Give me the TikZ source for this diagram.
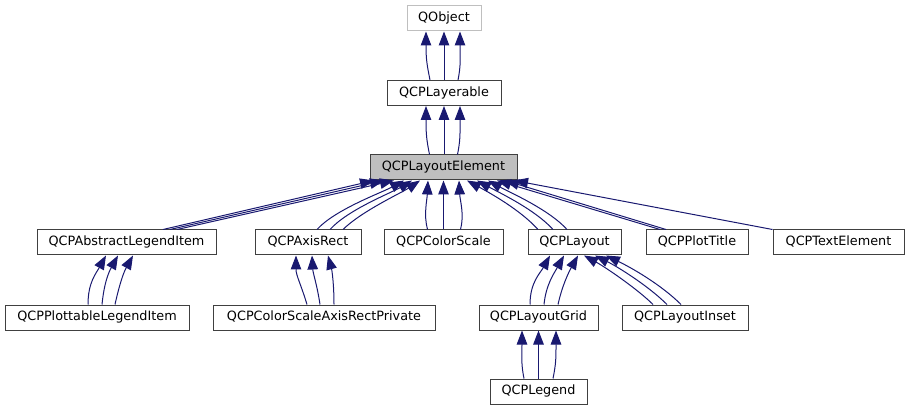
\documentclass[tikz,border=0pt]{standalone}
\usepackage{fontspec}
\setmainfont{DejaVu Sans}
\usetikzlibrary{arrows.meta}
\definecolor{edgecol}{HTML}{191970}
\definecolor{boxline}{HTML}{404040}
\definecolor{greyfill}{HTML}{BFBFBF}
\begin{document}
\begin{tikzpicture}[x=1pt,y=-1pt,
  cls/.style={draw=boxline, line width=1pt, fill=white, minimum height=25pt,
    inner sep=0pt, text height=9.5pt, text depth=3pt,
    font=\fontsize{12.8}{15}\selectfont},
  edge/.style={draw=edgecol, line width=1pt, -{Triangle[length=14pt,width=10.5pt]}}]
\path[use as bounding box] (0,0) rectangle (909,411);

% nodes
\node[cls, draw=greyfill, minimum width=74pt] (obj) at (444,18.5) {QObject};
\node[cls, minimum width=114pt] (lay) at (444,93) {QCPLayerable};
\node[cls, fill=greyfill, minimum width=147pt] (le) at (443.5,167.5) {QCPLayoutElement};
\node[cls, minimum width=179pt] (ali) at (126.5,242.5) {QCPAbstractLegendItem};
\node[cls, minimum width=106pt] (ar) at (308,242.5) {QCPAxisRect};
\node[cls, minimum width=119pt] (cs) at (443.5,242.5) {QCPColorScale};
\node[cls, minimum width=93pt] (lo) at (574.5,242.5) {QCPLayout};
\node[cls, minimum width=102pt] (pt) at (697,242.5) {QCPPlotTitle};
\node[cls, minimum width=131pt] (te) at (838.5,242.5) {QCPTextElement};
\node[cls, minimum width=184pt] (pli) at (97,317.5) {QCPPlottableLegendItem};
\node[cls, minimum width=222pt] (csarp) at (324,317.5) {QCPColorScaleAxisRectPrivate};
\node[cls, minimum width=119pt] (lg) at (538.5,317.5) {QCPLayoutGrid};
\node[cls, minimum width=126pt] (li) at (685,317.5) {QCPLayoutInset};
\node[cls, minimum width=97pt] (leg) at (538.5,391.5) {QCPLegend};

% QCPLayerable -> QObject
\draw[edge] ([xshift=-14pt]lay.north) .. controls +(-3,-15) and +(0,28) .. ([xshift=-18pt]obj.south);
\draw[edge] (lay.north) -- (obj.south);
\draw[edge] ([xshift=14pt]lay.north) .. controls +(3,-15) and +(0,28) .. ([xshift=16pt]obj.south);

% QCPLayoutElement -> QCPLayerable
\draw[edge] ([xshift=-14pt]le.north) .. controls +(-3,-15) and +(0,28) .. ([xshift=-18pt]lay.south);
\draw[edge] ([xshift=0.5pt]le.north) -- (lay.south);
\draw[edge] ([xshift=14pt]le.north) .. controls +(3,-15) and +(0,28) .. ([xshift=16pt]lay.south);

% QCPAbstractLegendItem -> QCPLayoutElement
\draw[edge] ([xshift=36.5pt]ali.north) -- ([xshift=-69.5pt]le.south);
\draw[edge] ([xshift=43.5pt]ali.north) -- ([xshift=-59.5pt]le.south);
\draw[edge] ([xshift=50.5pt]ali.north) -- ([xshift=-49.5pt]le.south);

% QCPAxisRect -> QCPLayoutElement
\draw[edge] ([xshift=9pt]ar.north) .. controls +(18,-20) and +(-22,12) .. ([xshift=-39.5pt]le.south);
\draw[edge] ([xshift=22pt]ar.north) .. controls +(18,-20) and +(-20,12) .. ([xshift=-31.5pt]le.south);
\draw[edge] ([xshift=35pt]ar.north) .. controls +(18,-18) and +(-18,12) .. ([xshift=-23.5pt]le.south);

% QCPColorScale -> QCPLayoutElement
\draw[edge] ([xshift=-16pt]cs.north) .. controls +(-4,-15) and +(-1,20) .. ([xshift=-15.5pt]le.south);
\draw[edge] (cs.north) -- (le.south);
\draw[edge] ([xshift=17pt]cs.north) .. controls +(4,-15) and +(1,20) .. ([xshift=15.5pt]le.south);

% QCPLayout -> QCPLayoutElement
\draw[edge] ([xshift=-36.5pt]lo.north) .. controls +(-18,-20) and +(22,12) .. ([xshift=23.5pt]le.south);
\draw[edge] ([xshift=-21.5pt]lo.north) .. controls +(-18,-20) and +(22,12) .. ([xshift=33.5pt]le.south);
\draw[edge] ([xshift=-7.5pt]lo.north) .. controls +(-18,-20) and +(22,12) .. ([xshift=44.5pt]le.south);

% QCPPlotTitle -> QCPLayoutElement
\draw[edge] ([xshift=-37pt]pt.north) -- ([xshift=53.5pt]le.south);
\draw[edge] ([xshift=-31pt]pt.north) -- ([xshift=61.5pt]le.south);

% QCPTextElement -> QCPLayoutElement
\draw[edge] (te.north west) -- ([xshift=70.5pt]le.south);

% QCPPlottableLegendItem -> QCPAbstractLegendItem
\draw[edge] ([xshift=-9pt]pli.north) .. controls +(0,-22) and +(-10,18) .. ([xshift=-20.5pt]ali.south);
\draw[edge] ([xshift=5pt]pli.north) .. controls +(2,-20) and +(-10,18) .. ([xshift=-8.5pt]ali.south);
\draw[edge] ([xshift=18pt]pli.north) .. controls +(4,-18) and +(-10,18) .. ([xshift=6.5pt]ali.south);

% QCPColorScaleAxisRectPrivate -> QCPAxisRect
\draw[edge] ([xshift=-17pt]csarp.north) .. controls +(-6,-20) and +(0,20) .. ([xshift=-12pt]ar.south);
\draw[edge] ([xshift=-4pt]csarp.north) .. controls +(-3,-20) and +(1,18) .. ([xshift=4pt]ar.south);
\draw[edge] ([xshift=10pt]csarp.north) .. controls +(0,-20) and +(4,15) .. ([xshift=20pt]ar.south);

% QCPLayoutGrid -> QCPLayout
\draw[edge] ([xshift=-8.5pt]lg.north) .. controls +(0,-22) and +(-10,18) .. ([xshift=-24.5pt]lo.south);
\draw[edge] ([xshift=5.5pt]lg.north) .. controls +(2,-20) and +(-10,18) .. ([xshift=-10.5pt]lo.south);
\draw[edge] ([xshift=19.5pt]lg.north) .. controls +(4,-18) and +(-10,18) .. ([xshift=3.5pt]lo.south);

% QCPLayoutInset -> QCPLayout
\draw[edge] ([xshift=-32pt]li.north) .. controls +(-15,-15) and +(22,12) .. ([xshift=9.5pt]lo.south);
\draw[edge] ([xshift=-18pt]li.north) .. controls +(-18,-18) and +(24,12) .. ([xshift=20.5pt]lo.south);
\draw[edge] ([xshift=-4pt]li.north) .. controls +(-20,-20) and +(25,12) .. ([xshift=31.5pt]lo.south);

% QCPLegend -> QCPLayoutGrid
\draw[edge] ([xshift=-14.5pt]leg.north) .. controls +(-3,-15) and +(0,28) .. ([xshift=-16.5pt]lg.south);
\draw[edge] (leg.north) -- (lg.south);
\draw[edge] ([xshift=14.5pt]leg.north) .. controls +(3,-15) and +(0,28) .. ([xshift=17.5pt]lg.south);
\end{tikzpicture}
\end{document}
